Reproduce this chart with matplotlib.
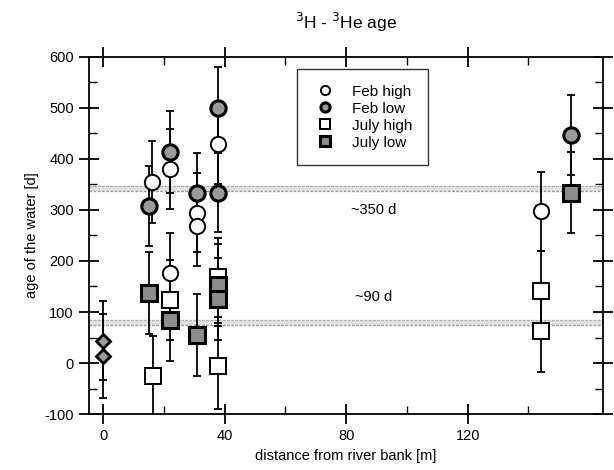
import matplotlib
matplotlib.use("Agg")
import matplotlib.pyplot as plt
from matplotlib.ticker import FixedLocator, MultipleLocator

plt.rcParams['font.family'] = ['Liberation Sans', 'DejaVu Sans']
plt.rcParams['axes.unicode_minus'] = False

############## Data ##############

feb_high_x = [16, 22, 22, 31, 31, 38, 144]
feb_high_y = [355, 380, 177, 295, 269, 429, 297]
feb_high_err = [80, 78, 78, 78, 78, 78, 77]

feb_low_x = [15, 22, 31, 38, 38, 154]
feb_low_y = [308, 414, 333, 500, 334, 447]
feb_low_err = [78, 80, 78, 80, 78, 78]

july_high_x = [16.5, 22, 38, 38, 144, 144]
july_high_y = [-25, 123, 168, -6, 141, 63]
july_high_err = [78, 78, 78, 85, 78, 80]

july_low_x = [15, 22, 31, 38, 38, 154]
july_low_y = [137, 84, 55, 153, 126, 334]
july_low_err = [80, 80, 80, 80, 80, 80]

diamond_x = [0, 0]
diamond_y = [44, 14]
diamond_err = [78, 83]

bands = [(337, 347), (74, 84)]
band_labels = ["~350 d", "~90 d"]
band_label_pos = [(89, 300), (89, 130)]

x_major = [0, 40, 80, 120]
x_minor = [20, 60, 100, 140]

############## Plot ##############

fig = plt.figure(figsize=(6.14, 4.70), dpi=100)
ax = fig.add_axes([0.145, 0.119, 0.837, 0.760])

for lo, hi in bands:
    ax.axhspan(lo, hi, facecolor='#e2e2e2', edgecolor='none', zorder=0)
    ax.axhline(lo, color='#9a9a9a', lw=1.0, ls=(0, (2, 1)), zorder=1)
    ax.axhline(hi, color='#b0b0b0', lw=1.0, ls=(0, (2, 1)), zorder=1)

for (tx, ty), lab in zip(band_label_pos, band_labels):
    ax.text(tx, ty, lab, ha='center', va='center', fontsize=10.5)

series = [
    (feb_high_x, feb_high_y, feb_high_err, 'o', 'white', 'Feb high'),
    (feb_low_x, feb_low_y, feb_low_err, 'o', '#9a9a9a', 'Feb low'),
    (july_high_x, july_high_y, july_high_err, 's', 'white', 'July high'),
    (july_low_x, july_low_y, july_low_err, 's', '#8c8c8c', 'July low'),
]

for x, y, e, m, fc, lab in series:
    ax.errorbar(x, y, yerr=e, fmt='none', ecolor='black', elinewidth=1.3,
                capsize=3, capthick=1.3, zorder=2)

ax.errorbar(diamond_x, diamond_y, yerr=diamond_err, fmt='none', ecolor='black',
            elinewidth=1.3, capsize=3, capthick=1.3, zorder=2)
ax.plot(diamond_x, diamond_y, 'D', ms=7.5, mfc='#9a9a9a', mec='black', mew=2.0,
        ls='none', zorder=3)

handles = []
for x, y, e, m, fc, lab in series:
    ew = 2.2 if fc != 'white' else 1.4
    h, = ax.plot(x, y, m, ms=11, mfc=fc, mec='black', mew=ew, ls='none',
                 zorder=3, label=lab)
    handles.append(h)

leg = ax.legend(handles=handles, loc='upper left', bbox_to_anchor=(0.405, 0.965),
                fontsize=11, markerscale=0.6, frameon=True, fancybox=False,
                edgecolor='black', handlelength=1.6, handletextpad=1.0,
                borderpad=1.0, borderaxespad=0, labelspacing=0.2)
leg.get_frame().set_linewidth(1.0)

ax.set_xlim(-4.6, 164.5)
ax.set_ylim(-100, 600)
ax.xaxis.set_major_locator(FixedLocator(x_major))
ax.xaxis.set_minor_locator(FixedLocator(x_minor))
ax.yaxis.set_major_locator(MultipleLocator(100))
ax.yaxis.set_minor_locator(MultipleLocator(50))
ax.tick_params(which='major', direction='inout', length=15, width=1.3,
               top=True, right=True, labelsize=10.5)
ax.tick_params(which='minor', direction='in', length=6, width=1.0,
               top=True, right=True)
for s in ax.spines.values():
    s.set_linewidth(1.3)

ax.set_xlabel("distance from river bank [m]", fontsize=10.5)
ax.set_ylabel("age of the water [d]", fontsize=10.5)
ax.set_title(r"$^{3}$H - $^{3}$He age", fontsize=12.5, pad=20)

fig.savefig("out.png", dpi=100)
